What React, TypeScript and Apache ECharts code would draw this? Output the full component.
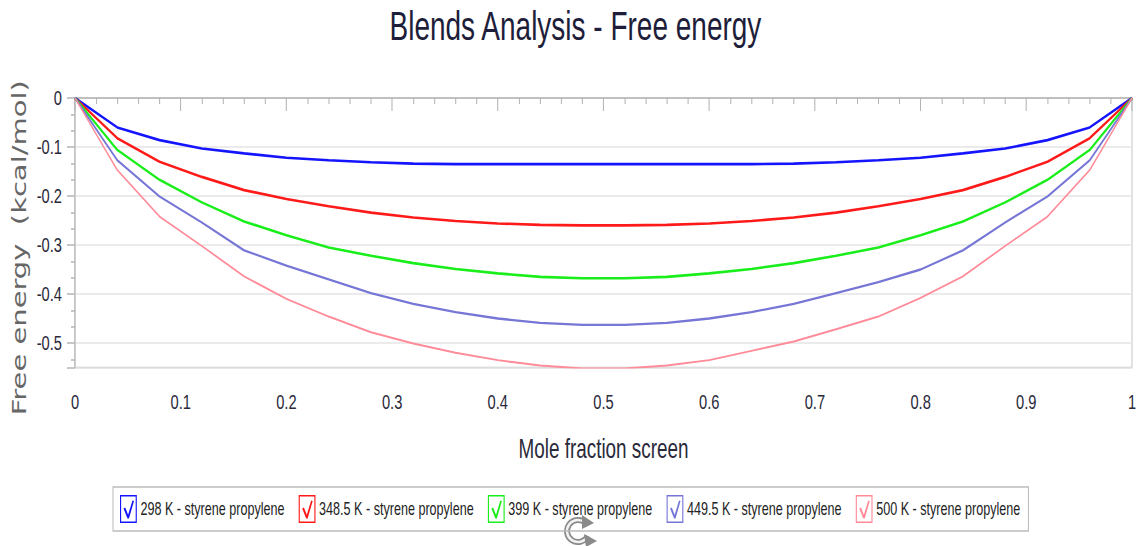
import React, { useEffect, useRef } from "react";
import * as echarts from "echarts";

// The reference looks like a wider picture squeezed horizontally; draw at full width and squeeze.
const S = 0.7;
const W = 1138;
const H = 546;
const CW = W / S;
const ox = (px: number) => px / S; // reference pixel -> chart coordinate (horizontal)

const moleFraction = [0, 0.04, 0.08, 0.12, 0.16, 0.2, 0.24, 0.28, 0.32, 0.36, 0.4, 0.44, 0.48, 0.52, 0.56, 0.6, 0.64, 0.68, 0.72, 0.76, 0.8, 0.84, 0.88, 0.92, 0.96, 1];

const seriesNames = [
  "298 K - styrene propylene",
  "348.5 K - styrene propylene",
  "399 K - styrene propylene",
  "449.5 K - styrene propylene",
  "500 K - styrene propylene",
];

const g298 = [0, -0.06, -0.086, -0.103, -0.113, -0.122, -0.127, -0.131, -0.134, -0.135, -0.135, -0.135, -0.135, -0.135, -0.135, -0.135, -0.135, -0.134, -0.131, -0.127, -0.122, -0.113, -0.103, -0.086, -0.06, 0];
const g348 = [0, -0.082, -0.13, -0.161, -0.188, -0.206, -0.221, -0.234, -0.244, -0.251, -0.256, -0.259, -0.26, -0.26, -0.259, -0.256, -0.251, -0.244, -0.234, -0.221, -0.206, -0.188, -0.161, -0.13, -0.082, 0];
const g399 = [0, -0.106, -0.167, -0.213, -0.252, -0.28, -0.305, -0.322, -0.337, -0.349, -0.358, -0.365, -0.368, -0.368, -0.365, -0.358, -0.349, -0.337, -0.322, -0.305, -0.28, -0.252, -0.213, -0.167, -0.106, 0];
const g449 = [0, -0.127, -0.201, -0.254, -0.311, -0.342, -0.37, -0.398, -0.42, -0.437, -0.45, -0.459, -0.463, -0.463, -0.459, -0.45, -0.437, -0.42, -0.398, -0.376, -0.35, -0.311, -0.254, -0.201, -0.127, 0];
const g500 = [0, -0.147, -0.242, -0.302, -0.364, -0.41, -0.446, -0.478, -0.501, -0.52, -0.535, -0.546, -0.552, -0.552, -0.546, -0.535, -0.516, -0.497, -0.472, -0.446, -0.408, -0.364, -0.302, -0.242, -0.147, 0];

const seriesValues = [g298, g348, g399, g449, g500];
const seriesColors = ["#1414ff", "#ff1a1a", "#1aee1a", "#7676d6", "#ff8a98"];
const seriesWidths = [2.6, 2.6, 2.6, 2.3, 1.9];

const checkIcon =
  "path://M0,0 H24 V28 H0 Z M1.6,1.6 V26.4 H22.4 V1.6 Z M5,13.5 L7.5,12.6 L11.6,19.8 L17.8,5.4 L20,6 L12.8,23.6 L10.7,23.6 Z";

const FONT = "'Liberation Sans', Arial, sans-serif";

export default function App() {
  const ref = useRef<HTMLDivElement>(null);

  useEffect(() => {
    document.body.style.margin = "0";
    const chart = echarts.init(ref.current!, null, { renderer: "svg" });

    const series = seriesNames.map((name, i) => ({
      name,
      type: "line",
      data: moleFraction.map((x, j) => [x, seriesValues[i][j]]),
      symbol: "none",
      color: seriesColors[i],
      lineStyle: { width: seriesWidths[i], color: seriesColors[i] },
      clip: true,
    }));

    chart.setOption({
      animation: false,
      backgroundColor: "#ffffff",
      title: {
        text: "Blends Analysis - Free energy",
        left: ox(386),
        top: 1,
        textStyle: { fontFamily: FONT, fontSize: 40, fontWeight: "normal", color: "#1e1e3a" },
      },
      grid: {
        left: ox(75),
        right: ox(5),
        top: 98,
        bottom: 546 - 367.5,
        show: true,
        borderColor: "#c8c8c8",
        borderWidth: 1.5,
      },
      legend: {
        left: ox(113),
        top: 487,
        orient: "horizontal",
        icon: checkIcon,
        itemWidth: ox(17),
        itemHeight: 28,
        itemGap: ox(14),
        padding: [8, ox(8), 8, ox(7)],
        borderColor: "#bcbcbc",
        borderWidth: 1.5,
        itemStyle: { borderWidth: 0 },
        textStyle: { fontFamily: FONT, fontSize: 18, color: "#222222" },
        data: seriesNames,
      },
      xAxis: {
        type: "value",
        min: 0,
        max: 1,
        interval: 0.1,
        name: "Mole fraction screen",
        nameLocation: "middle",
        nameGap: 68,
        nameTextStyle: { fontFamily: FONT, fontSize: 27, color: "#2a2a3a" },
        axisLine: { show: true, lineStyle: { color: "#b4b4b4", width: 1.5 } },
        axisTick: { show: true, length: 13, lineStyle: { color: "#b4b4b4", width: 1.5 } },
        minorTick: { show: true, splitNumber: 5, length: 6, lineStyle: { color: "#b4b4b4", width: 1.5 } },
        axisLabel: { margin: 24, fontFamily: FONT, fontSize: 21, color: "#2a2a3a" },
        splitLine: { show: false },
      },
      yAxis: {
        type: "value",
        min: -0.55,
        max: 0,
        name: "Free energy  (kcal/mol)",
        nameLocation: "middle",
        nameRotate: 90,
        nameGap: 62,
        nameTextStyle: {
          fontFamily: "'DejaVu Sans', Verdana, sans-serif",
          fontSize: 29,
          color: "#666666",
          padding: [0, 30, 0, 0],
        },
        axisLine: { show: true, lineStyle: { color: "#b4b4b4", width: 1.5 } },
        axisTick: { show: true, length: ox(8), lineStyle: { color: "#b4b4b4", width: 1.5 } },
        minorTick: { show: true, splitNumber: 3, length: ox(4), lineStyle: { color: "#b4b4b4", width: 1.5 } },
        axisLabel: { margin: ox(13), showMinLabel: false, fontFamily: FONT, fontSize: 21, color: "#2a2a3a" },
        splitLine: { show: true, lineStyle: { color: "#e4e4e4", width: 1.5 } },
      },
      graphic: [
        {
          type: "group",
          x: ox(578),
          y: 531,
          scaleX: 1 / S,
          z: 100,
          children: [
            { type: "arc", shape: { cx: 0, cy: 0, r: 11, startAngle: 0.15 * Math.PI, endAngle: 1.75 * Math.PI }, style: { stroke: "#8a8a8a", lineWidth: 6, fill: null } },
            { type: "arc", shape: { cx: 0, cy: 0, r: 11, startAngle: 0.17 * Math.PI, endAngle: 1.73 * Math.PI }, style: { stroke: "#f2f2f2", lineWidth: 2.5, fill: null } },
            { type: "polygon", shape: { points: [[4, -16], [16, -8], [4, -2]] }, style: { fill: "#8a8a8a" } },
            { type: "polygon", shape: { points: [[6, 3], [19, 10], [8, 16]] }, style: { fill: "#8a8a8a" } },
          ],
        },
      ],
      series,
    });

    return () => chart.dispose();
  }, []);

  return (
    <div style={{ width: W, height: H, overflow: "hidden", position: "relative", background: "#fff" }}>
      <div
        ref={ref}
        style={{ width: CW, height: H, transform: `scaleX(${S})`, transformOrigin: "0 0" }}
      />
    </div>
  );
}
